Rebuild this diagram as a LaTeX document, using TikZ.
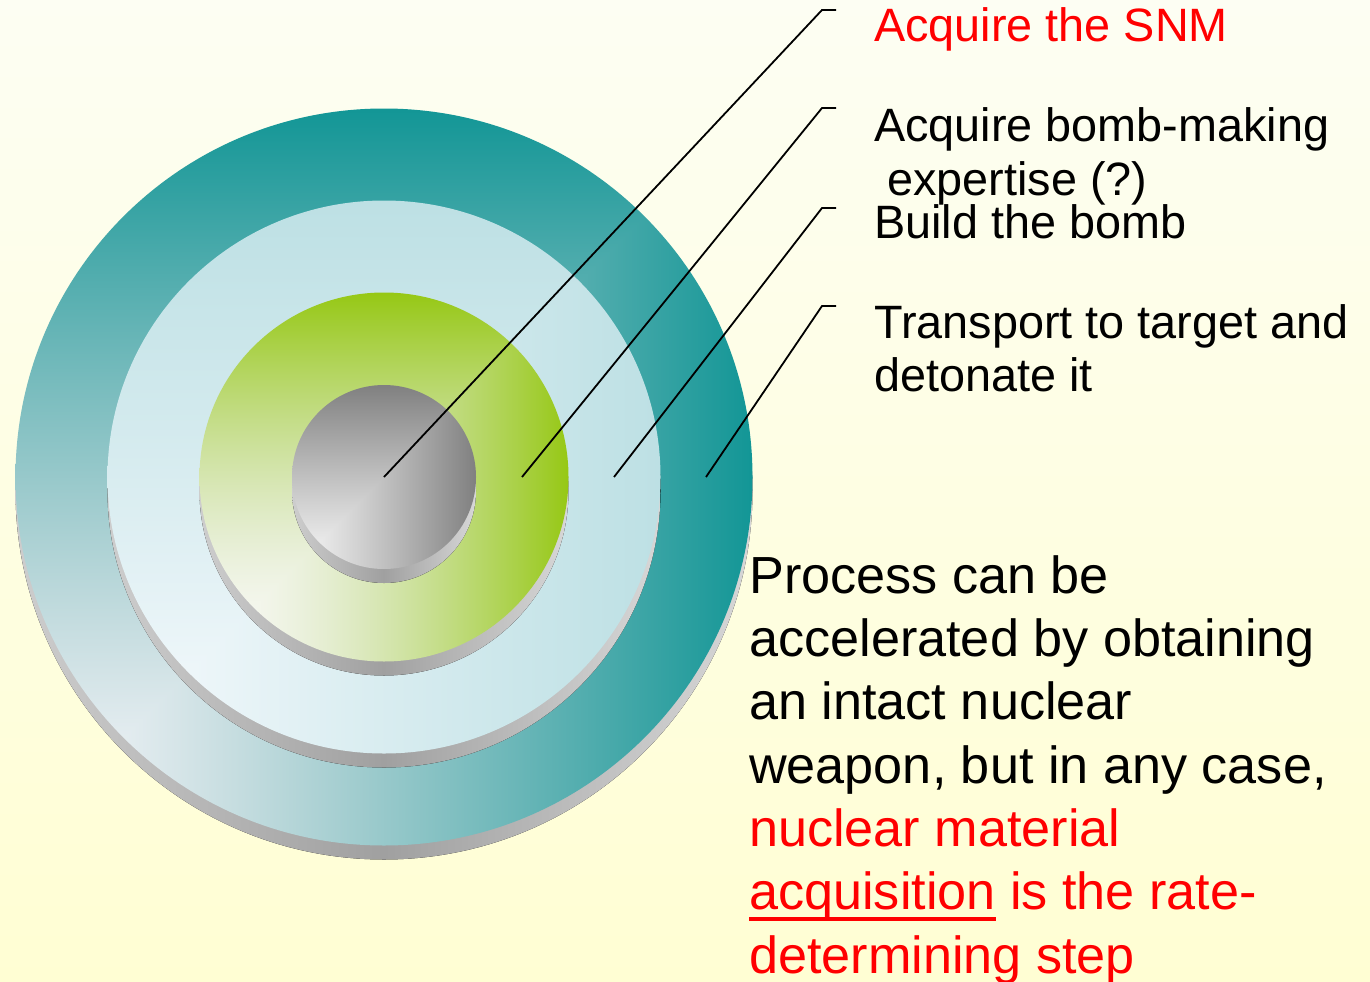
\documentclass[tikz,border=0pt]{standalone}
\usepackage{fontspec}
\setmainfont{Liberation Sans}
\definecolor{bgtop}{RGB}{253,254,243}
\definecolor{bgbot}{RGB}{255,254,211}
\definecolor{sideL}{RGB}{205,205,205}
\definecolor{sideM}{RGB}{160,160,160}
\definecolor{sideR}{RGB}{215,215,215}
\definecolor{snmred}{RGB}{255,0,0}
% corner gradients: lightest at lower left, full colour at top and right
\pgfdeclarefunctionalshading{cornerteal}{\pgfpoint{-50bp}{-50bp}}{\pgfpoint{50bp}{50bp}}{}{
  25 add 50 div exch 25 add 50 div
  2 copy lt {exch} if pop
  dup 1 gt {pop 1} if dup 0 lt {pop 0} if
  dup 1.25 exp -0.902 mul 0.973 add exch dup 1.0 exp -0.396 mul 0.984 add exch 1.0 exp -0.412 mul 1.0 add
}
\pgfdeclarefunctionalshading{cornerblue}{\pgfpoint{-50bp}{-50bp}}{\pgfpoint{50bp}{50bp}}{}{
  25 add 50 div exch 25 add 50 div
  2 copy lt {exch} if pop
  dup 1 gt {pop 1} if dup 0 lt {pop 0} if
  0.9 exp
  dup -0.232 mul 0.973 add exch dup -0.106 mul 0.984 add exch -0.102 mul 0.996 add
}
\pgfdeclarefunctionalshading{cornergreen}{\pgfpoint{-50bp}{-50bp}}{\pgfpoint{50bp}{50bp}}{}{
  25 add 50 div exch 25 add 50 div
  2 copy lt {exch} if pop
  dup 1 gt {pop 1} if dup 0 lt {pop 0} if
  dup 1.45 exp -0.392 mul 0.980 add exch dup 1.25 exp -0.200 mul 0.984 add exch 1.7 exp -0.883 mul 0.961 add
}
\pgfdeclarefunctionalshading{cornergrey}{\pgfpoint{-50bp}{-50bp}}{\pgfpoint{50bp}{50bp}}{}{
  25 add 50 div exch 25 add 50 div
  2 copy lt {exch} if pop
  dup 1 gt {pop 1} if dup 0 lt {pop 0} if
  1.1 exp
  dup -0.471 mul 0.973 add exch dup -0.471 mul 0.973 add exch -0.471 mul 0.973 add
}
\newcommand\mydisk[4]{%
  \fill[left color=sideL, right color=sideR, middle color=sideM] (#1,#2+14) circle (#3pt);
  \shade[shading=corner#4] (#1,#2) circle (#3pt);}
\newcommand\ulred[1]{\setbox0\hbox{#1}\rlap{\rule[-11pt]{\wd0}{3.6pt}}\box0\relax}
\tikzset{
  toptext/.style={anchor=base west, inner sep=0pt, font=\fontsize{46.8}{53.3}\selectfont},
  bottext/.style={anchor=base west, inner sep=0pt, font=\fontsize{52.2}{63.3}\selectfont},
  leader/.style={draw=black, line width=1.8pt}
}
\begin{document}
\begin{tikzpicture}[x=1pt, y=-1pt]
\useasboundingbox (0,0) rectangle (1370,982);
\fill[top color=bgtop, bottom color=bgbot] (0,0) rectangle (1370,982);
% concentric disks
\mydisk{384}{477}{368.5}{teal}
\mydisk{384}{477}{276.5}{blue}
\mydisk{384}{477}{184.5}{green}
\mydisk{384}{477}{92}{grey}
% leader anchor points
\coordinate (p1) at (384,477);
\coordinate (p2) at (522,477);
\coordinate (p3) at (614,477);
\coordinate (p4) at (706,477);
\coordinate (e1) at (822,10);
\coordinate (e2) at (822,108);
\coordinate (e3) at (822,208);
\coordinate (e4) at (822,306);
\coordinate (f1) at (836,10);
\coordinate (f2) at (836,108);
\coordinate (f3) at (836,208);
\coordinate (f4) at (836,306);
\draw[leader] (p1) -- (e1) -- (f1);
\draw[leader] (p2) -- (e2) -- (f2);
\draw[leader] (p3) -- (e3) -- (f3);
\draw[leader] (p4) -- (e4) -- (f4);
% labels
\node[toptext, text=snmred] (t1) at (874,42) {Acquire the SNM};
\node[toptext] (t2) at (874,141.7) {\vtop{\hbox{Acquire bomb-making}\hbox{\ expertise (?)}}};
\node[toptext] (t3) at (874,238.3) {Build the bomb};
\node[toptext] (t4) at (874,338.3) {\vtop{\hbox{Transport to target and}\hbox{detonate it}}};
\node[bottext] (note) at (749,593.3) {\vtop{%
  \hbox{Process can be}
  \hbox{accelerated by obtaining}
  \hbox{an intact nuclear}
  \hbox{weapon, but in any case,}
  \hbox{\color{snmred}nuclear material}
  \hbox{\color{snmred}\ulred{acquisition} is the rate-}
  \hbox{\color{snmred}determining step}}};
\end{tikzpicture}
\end{document}
